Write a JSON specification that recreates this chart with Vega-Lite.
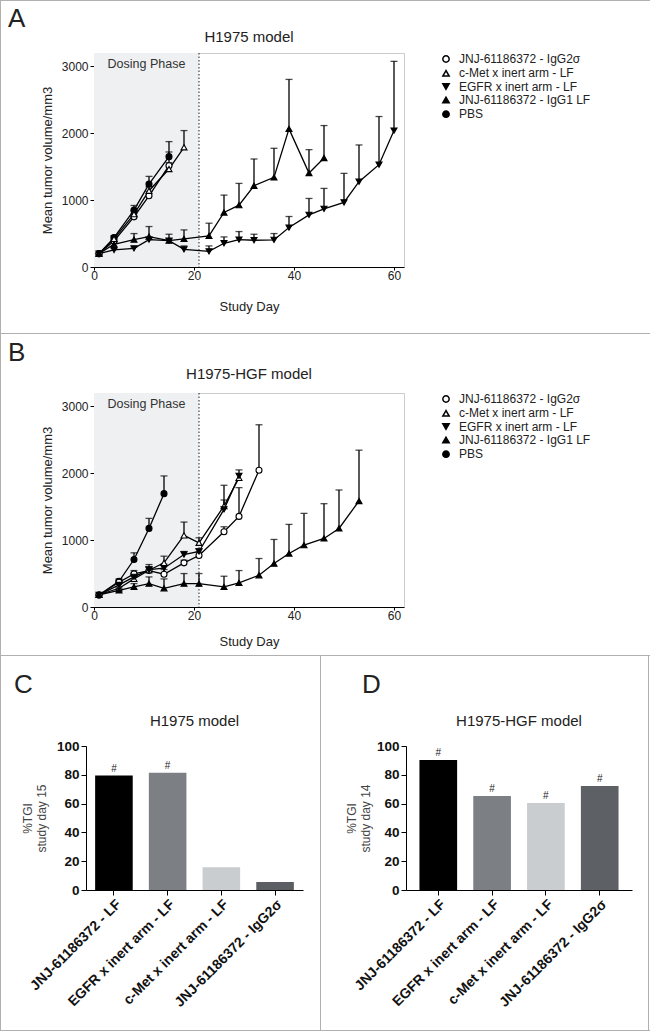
{
  "$schema": "https://vega.github.io/schema/vega-lite/v6.json",
  "background": "white",
  "padding": 0,
  "config": {
    "font": "Liberation Sans",
    "view": {"stroke": null},
    "axis": {"domainColor": "black", "tickColor": "black", "labelColor": "#222", "titleColor": "#222", "grid": false, "labelFontSize": 12, "titleFontSize": 13, "titleFontWeight": "normal", "labelFlush": false, "labelOverlap": false},
    "title": {"fontWeight": "normal", "fontSize": 26, "color": "#222", "anchor": "start", "frame": "group"},
    "legend": {"title": null, "orient": "right", "offset": 36, "labelFontSize": 12, "labelColor": "#222", "symbolSize": 40, "rowPadding": 1.3, "labelOffset": 7, "padding": 0}
  },
  "datasets": {
    "tumorA": [
      {"s": "PBS", "d": 1, "m": 200, "u": 200},
      {"s": "PBS", "d": 4, "m": 440, "u": 470},
      {"s": "PBS", "d": 8, "m": 850, "u": 920},
      {"s": "PBS", "d": 11, "m": 1240, "u": 1355},
      {"s": "PBS", "d": 15, "m": 1650, "u": 1875},
      {"s": "JNJ-61186372 - IgG2σ", "d": 1, "m": 200, "u": 200},
      {"s": "JNJ-61186372 - IgG2σ", "d": 4, "m": 390, "u": 420},
      {"s": "JNJ-61186372 - IgG2σ", "d": 8, "m": 750, "u": 800},
      {"s": "JNJ-61186372 - IgG2σ", "d": 11, "m": 1065, "u": 1130},
      {"s": "JNJ-61186372 - IgG2σ", "d": 15, "m": 1515, "u": 1720},
      {"s": "c-Met x inert arm - LF", "d": 1, "m": 200, "u": 200},
      {"s": "c-Met x inert arm - LF", "d": 4, "m": 420, "u": 450},
      {"s": "c-Met x inert arm - LF", "d": 8, "m": 790, "u": 840},
      {"s": "c-Met x inert arm - LF", "d": 11, "m": 1140, "u": 1200},
      {"s": "c-Met x inert arm - LF", "d": 15, "m": 1465, "u": 1560},
      {"s": "c-Met x inert arm - LF", "d": 18, "m": 1790, "u": 2040},
      {"s": "EGFR x inert arm - LF", "d": 1, "m": 200, "u": 200},
      {"s": "EGFR x inert arm - LF", "d": 4, "m": 255, "u": 275},
      {"s": "EGFR x inert arm - LF", "d": 8, "m": 280, "u": 300},
      {"s": "EGFR x inert arm - LF", "d": 11, "m": 410, "u": 440},
      {"s": "EGFR x inert arm - LF", "d": 15, "m": 395, "u": 420},
      {"s": "EGFR x inert arm - LF", "d": 18, "m": 265, "u": 315},
      {"s": "EGFR x inert arm - LF", "d": 23, "m": 235, "u": 315},
      {"s": "EGFR x inert arm - LF", "d": 26, "m": 355, "u": 450},
      {"s": "EGFR x inert arm - LF", "d": 29, "m": 410, "u": 530},
      {"s": "EGFR x inert arm - LF", "d": 32, "m": 400, "u": 490},
      {"s": "EGFR x inert arm - LF", "d": 36, "m": 405, "u": 500},
      {"s": "EGFR x inert arm - LF", "d": 39, "m": 590, "u": 755},
      {"s": "EGFR x inert arm - LF", "d": 43, "m": 780, "u": 1025},
      {"s": "EGFR x inert arm - LF", "d": 46, "m": 870, "u": 1175},
      {"s": "EGFR x inert arm - LF", "d": 50, "m": 965, "u": 1400},
      {"s": "EGFR x inert arm - LF", "d": 53, "m": 1275, "u": 1825},
      {"s": "EGFR x inert arm - LF", "d": 57, "m": 1530, "u": 2250},
      {"s": "EGFR x inert arm - LF", "d": 60, "m": 2040, "u": 3075},
      {"s": "JNJ-61186372 - IgG1 LF", "d": 1, "m": 200, "u": 200},
      {"s": "JNJ-61186372 - IgG1 LF", "d": 4, "m": 340, "u": 370},
      {"s": "JNJ-61186372 - IgG1 LF", "d": 8, "m": 410, "u": 500},
      {"s": "JNJ-61186372 - IgG1 LF", "d": 11, "m": 455, "u": 605},
      {"s": "JNJ-61186372 - IgG1 LF", "d": 15, "m": 395, "u": 490},
      {"s": "JNJ-61186372 - IgG1 LF", "d": 18, "m": 420, "u": 555},
      {"s": "JNJ-61186372 - IgG1 LF", "d": 23, "m": 465, "u": 655},
      {"s": "JNJ-61186372 - IgG1 LF", "d": 26, "m": 815, "u": 1075},
      {"s": "JNJ-61186372 - IgG1 LF", "d": 29, "m": 925, "u": 1250},
      {"s": "JNJ-61186372 - IgG1 LF", "d": 32, "m": 1215, "u": 1615},
      {"s": "JNJ-61186372 - IgG1 LF", "d": 36, "m": 1340, "u": 1775},
      {"s": "JNJ-61186372 - IgG1 LF", "d": 39, "m": 2065, "u": 2805},
      {"s": "JNJ-61186372 - IgG1 LF", "d": 43, "m": 1405, "u": 1755},
      {"s": "JNJ-61186372 - IgG1 LF", "d": 46, "m": 1630, "u": 2115}
    ],
    "tumorB": [
      {"s": "PBS", "d": 1, "m": 180, "u": 180},
      {"s": "PBS", "d": 5, "m": 385, "u": 420},
      {"s": "PBS", "d": 8, "m": 710, "u": 810},
      {"s": "PBS", "d": 11, "m": 1175, "u": 1325},
      {"s": "PBS", "d": 14, "m": 1695, "u": 1960},
      {"s": "JNJ-61186372 - IgG2σ", "d": 1, "m": 180, "u": 180},
      {"s": "JNJ-61186372 - IgG2σ", "d": 5, "m": 370, "u": 400},
      {"s": "JNJ-61186372 - IgG2σ", "d": 8, "m": 495, "u": 545},
      {"s": "JNJ-61186372 - IgG2σ", "d": 11, "m": 545, "u": 635},
      {"s": "JNJ-61186372 - IgG2σ", "d": 14, "m": 490, "u": 560},
      {"s": "JNJ-61186372 - IgG2σ", "d": 18, "m": 660, "u": 700},
      {"s": "JNJ-61186372 - IgG2σ", "d": 21, "m": 770, "u": 820},
      {"s": "JNJ-61186372 - IgG2σ", "d": 26, "m": 1125, "u": 1200},
      {"s": "JNJ-61186372 - IgG2σ", "d": 29, "m": 1355, "u": 1785},
      {"s": "JNJ-61186372 - IgG2σ", "d": 33, "m": 2045, "u": 2725},
      {"s": "c-Met x inert arm - LF", "d": 1, "m": 180, "u": 180},
      {"s": "c-Met x inert arm - LF", "d": 5, "m": 280, "u": 300},
      {"s": "c-Met x inert arm - LF", "d": 8, "m": 420, "u": 460},
      {"s": "c-Met x inert arm - LF", "d": 11, "m": 550, "u": 600},
      {"s": "c-Met x inert arm - LF", "d": 14, "m": 660, "u": 760},
      {"s": "c-Met x inert arm - LF", "d": 18, "m": 1070, "u": 1270},
      {"s": "c-Met x inert arm - LF", "d": 21, "m": 960, "u": 1035},
      {"s": "c-Met x inert arm - LF", "d": 26, "m": 1510, "u": 1820},
      {"s": "c-Met x inert arm - LF", "d": 29, "m": 1930, "u": 1930},
      {"s": "EGFR x inert arm - LF", "d": 1, "m": 180, "u": 180},
      {"s": "EGFR x inert arm - LF", "d": 5, "m": 330, "u": 360},
      {"s": "EGFR x inert arm - LF", "d": 8, "m": 450, "u": 500},
      {"s": "EGFR x inert arm - LF", "d": 11, "m": 560, "u": 600},
      {"s": "EGFR x inert arm - LF", "d": 14, "m": 580, "u": 640},
      {"s": "EGFR x inert arm - LF", "d": 18, "m": 785, "u": 830},
      {"s": "EGFR x inert arm - LF", "d": 21, "m": 830, "u": 870},
      {"s": "EGFR x inert arm - LF", "d": 26, "m": 1460, "u": 1600},
      {"s": "EGFR x inert arm - LF", "d": 29, "m": 1960, "u": 2050},
      {"s": "JNJ-61186372 - IgG1 LF", "d": 1, "m": 180, "u": 180},
      {"s": "JNJ-61186372 - IgG1 LF", "d": 5, "m": 250, "u": 280},
      {"s": "JNJ-61186372 - IgG1 LF", "d": 8, "m": 300, "u": 350},
      {"s": "JNJ-61186372 - IgG1 LF", "d": 11, "m": 350, "u": 450},
      {"s": "JNJ-61186372 - IgG1 LF", "d": 14, "m": 280, "u": 420},
      {"s": "JNJ-61186372 - IgG1 LF", "d": 18, "m": 350, "u": 500},
      {"s": "JNJ-61186372 - IgG1 LF", "d": 21, "m": 350, "u": 500},
      {"s": "JNJ-61186372 - IgG1 LF", "d": 26, "m": 300, "u": 460},
      {"s": "JNJ-61186372 - IgG1 LF", "d": 29, "m": 360, "u": 545},
      {"s": "JNJ-61186372 - IgG1 LF", "d": 33, "m": 475, "u": 725},
      {"s": "JNJ-61186372 - IgG1 LF", "d": 36, "m": 650, "u": 1010},
      {"s": "JNJ-61186372 - IgG1 LF", "d": 39, "m": 800, "u": 1235},
      {"s": "JNJ-61186372 - IgG1 LF", "d": 42, "m": 925, "u": 1400},
      {"s": "JNJ-61186372 - IgG1 LF", "d": 46, "m": 1025, "u": 1545},
      {"s": "JNJ-61186372 - IgG1 LF", "d": 49, "m": 1175, "u": 1750},
      {"s": "JNJ-61186372 - IgG1 LF", "d": 53, "m": 1585, "u": 2345}
    ],
    "tgiC": [
      {"g": "JNJ-61186372 - LF", "v": 79.5, "h": "#"},
      {"g": "EGFR x inert arm - LF", "v": 81.5, "h": "#"},
      {"g": "c-Met x inert arm - LF", "v": 15.8, "h": ""},
      {"g": "JNJ-61186372 - IgG2σ", "v": 5.5, "h": ""}
    ],
    "tgiD": [
      {"g": "JNJ-61186372 - LF", "v": 90.2, "h": "#"},
      {"g": "EGFR x inert arm - LF", "v": 65.3, "h": "#"},
      {"g": "c-Met x inert arm - LF", "v": 60.5, "h": "#"},
      {"g": "JNJ-61186372 - IgG2σ", "v": 72.3, "h": "#"}
    ],
    "one": [{}]
  },
  "spacing": 0,
  "resolve": {"scale": {"shape": "independent", "fill": "independent", "color": "independent"}},
  "vconcat": [
    {"width": 650, "height": 1, "data": {"name": "one"}, "mark": {"type": "rect", "color": "#b0b0b0"}},
    {
      "columns": 2, "align": "none", "spacing": 7,
      "resolve": {"scale": {"shape": "independent", "fill": "independent"}},
      "concat": [
        {"width": 1, "height": 332, "data": {"name": "one"}, "mark": {"type": "rect", "color": "#b0b0b0"}},
        {
          "columns": 2, "align": "none", "spacing": 58,
          "resolve": {"scale": {"shape": "independent", "fill": "independent"}},
          "concat": [
            {
              "spacing": 0,
              "resolve": {"scale": {"shape": "independent", "fill": "independent"}},
              "vconcat": [
                {"width": 310, "height": 51, "data": {"name": "one"},
                 "title": {"text": "A", "offset": -31, "dx": -86},
                 "mark": {"type": "text", "fontSize": 15, "color": "#222", "dy": 10.5},
                 "encoding": {"text": {"value": "H1975 model"}}},
                {
                  "width": 310, "height": 214,
                  "view": {"stroke": "#cccccc"},
                  "layer": [
                    {"data": {"values": [{"a": 0, "b": 21}]}, "mark": {"type": "rect", "color": "#eef0f2"},
                     "encoding": {"x": {"field": "a", "type": "quantitative", "scale": {"domain": [0, 62], "nice": false}}, "x2": {"field": "b"}}},
                    {"data": {"name": "one"}, "mark": {"type": "rule", "color": "#222", "strokeDash": [1.5, 2], "strokeWidth": 1},
                     "encoding": {"x": {"datum": 21, "type": "quantitative"}}},
                    {"data": {"name": "one"}, "mark": {"type": "text", "fontSize": 12.5, "color": "#333"},
                     "encoding": {"x": {"datum": 10.5, "type": "quantitative"}, "y": {"datum": 3040, "type": "quantitative"}, "text": {"value": "Dosing Phase"}}},
                    {"data": {"name": "tumorA"}, "transform": [{"filter": "datum.u > datum.m"}], "mark": {"type": "rule", "color": "black", "strokeWidth": 1.3},
                     "encoding": {"x": {"field": "d", "type": "quantitative"}, "y": {"field": "m", "type": "quantitative"}, "y2": {"field": "u"}}},
                    {"data": {"name": "tumorA"}, "transform": [{"filter": "datum.u > datum.m"}], "mark": {"type": "tick", "orient": "horizontal", "color": "black", "size": 7, "thickness": 1.3},
                     "encoding": {"x": {"field": "d", "type": "quantitative"}, "y": {"field": "u", "type": "quantitative"}}},
                    {"data": {"name": "tumorA"}, "mark": {"type": "line", "color": "black", "strokeWidth": 1.3},
                     "encoding": {
                       "x": {"field": "d", "type": "quantitative", "scale": {"domain": [0, 62], "nice": false}, "axis": {"values": [0, 20, 40, 60], "title": "Study Day", "tickSize": 3, "labelPadding": 0, "titlePadding": 19}},
                       "y": {"field": "m", "type": "quantitative", "scale": {"domain": [0, 3200], "nice": false}, "axis": {"values": [0, 1000, 2000, 3000], "format": "d", "title": "Mean tumor volume/mm3", "tickSize": 4, "labelPadding": 2, "titlePadding": 7}},
                       "detail": {"field": "s"}}},
                    {"data": {"name": "tumorA"}, "mark": {"type": "point", "filled": true, "stroke": "black", "strokeWidth": 1.1, "size": 36, "opacity": 1},
                     "encoding": {
                       "x": {"field": "d", "type": "quantitative"},
                       "y": {"field": "m", "type": "quantitative"},
                       "shape": {"field": "s", "type": "nominal", "scale": {"domain": ["JNJ-61186372 - IgG2σ", "c-Met x inert arm - LF", "EGFR x inert arm - LF", "JNJ-61186372 - IgG1 LF", "PBS"], "range": ["circle", "triangle-up", "triangle-down", "triangle-up", "circle"]},
                         "legend": {"encode": {"symbols": {"update": {"stroke": {"value": "black"}, "strokeWidth": {"value": 1.1}, "shape": {"signal": "(datum.value == 'PBS' || datum.value == 'JNJ-61186372 - IgG2σ') ? 'M-2.3,0H-1M1,0H2.3M1,0A1,1,0,1,1,-1,0A1,1,0,1,1,1,0Z' : (datum.value == 'EGFR x inert arm - LF' ? 'M-2.3,-0.1H2.3M0,0.95L1.05,-0.8H-1.05Z' : 'M-2.3,0.1H2.3M0,-0.95L1.05,0.8H-1.05Z')"}}}}}},
                       "fill": {"field": "s", "type": "nominal", "scale": {"domain": ["JNJ-61186372 - IgG2σ", "c-Met x inert arm - LF", "EGFR x inert arm - LF", "JNJ-61186372 - IgG1 LF", "PBS"], "range": ["white", "white", "black", "black", "black"]},
                         "legend": {"encode": {"symbols": {"update": {"stroke": {"value": "black"}, "strokeWidth": {"value": 1.1}, "shape": {"signal": "(datum.value == 'PBS' || datum.value == 'JNJ-61186372 - IgG2σ') ? 'M-2.3,0H-1M1,0H2.3M1,0A1,1,0,1,1,-1,0A1,1,0,1,1,1,0Z' : (datum.value == 'EGFR x inert arm - LF' ? 'M-2.3,-0.1H2.3M0,0.95L1.05,-0.8H-1.05Z' : 'M-2.3,0.1H2.3M0,-0.95L1.05,0.8H-1.05Z')"}}}}}}}}
                  ]
                }
              ]
            },
            {"width": 1, "height": 332, "data": {"name": "one"}, "mark": {"type": "rect", "color": "#b0b0b0"}}
          ]
        }
      ]
    },
    {"width": 650, "height": 1, "data": {"name": "one"}, "mark": {"type": "rect", "color": "#b0b0b0"}},
    {
      "columns": 2, "align": "none", "spacing": 7,
      "resolve": {"scale": {"shape": "independent", "fill": "independent"}},
      "concat": [
        {"width": 1, "height": 321, "data": {"name": "one"}, "mark": {"type": "rect", "color": "#b0b0b0"}},
        {
          "columns": 2, "align": "none", "spacing": 58,
          "resolve": {"scale": {"shape": "independent", "fill": "independent"}},
          "concat": [
            {
              "spacing": 0,
              "resolve": {"scale": {"shape": "independent", "fill": "independent"}},
              "vconcat": [
                {"width": 310, "height": 58, "data": {"name": "one"},
                 "title": {"text": "B", "offset": -32, "dx": -86},
                 "mark": {"type": "text", "fontSize": 15, "color": "#222", "dy": 11},
                 "encoding": {"text": {"value": "H1975-HGF model"}}},
                {
                  "width": 310, "height": 214,
                  "view": {"stroke": "#cccccc"},
                  "layer": [
                    {"data": {"values": [{"a": 0, "b": 21}]}, "mark": {"type": "rect", "color": "#eef0f2"},
                     "encoding": {"x": {"field": "a", "type": "quantitative", "scale": {"domain": [0, 62], "nice": false}}, "x2": {"field": "b"}}},
                    {"data": {"name": "one"}, "mark": {"type": "rule", "color": "#222", "strokeDash": [1.5, 2], "strokeWidth": 1},
                     "encoding": {"x": {"datum": 21, "type": "quantitative"}}},
                    {"data": {"name": "one"}, "mark": {"type": "text", "fontSize": 12.5, "color": "#333"},
                     "encoding": {"x": {"datum": 10.5, "type": "quantitative"}, "y": {"datum": 3040, "type": "quantitative"}, "text": {"value": "Dosing Phase"}}},
                    {"data": {"name": "tumorB"}, "transform": [{"filter": "datum.u > datum.m"}], "mark": {"type": "rule", "color": "black", "strokeWidth": 1.3},
                     "encoding": {"x": {"field": "d", "type": "quantitative"}, "y": {"field": "m", "type": "quantitative"}, "y2": {"field": "u"}}},
                    {"data": {"name": "tumorB"}, "transform": [{"filter": "datum.u > datum.m"}], "mark": {"type": "tick", "orient": "horizontal", "color": "black", "size": 7, "thickness": 1.3},
                     "encoding": {"x": {"field": "d", "type": "quantitative"}, "y": {"field": "u", "type": "quantitative"}}},
                    {"data": {"name": "tumorB"}, "mark": {"type": "line", "color": "black", "strokeWidth": 1.3},
                     "encoding": {
                       "x": {"field": "d", "type": "quantitative", "scale": {"domain": [0, 62], "nice": false}, "axis": {"values": [0, 20, 40, 60], "title": "Study Day", "tickSize": 3, "labelPadding": 0, "titlePadding": 14}},
                       "y": {"field": "m", "type": "quantitative", "scale": {"domain": [0, 3200], "nice": false}, "axis": {"values": [0, 1000, 2000, 3000], "format": "d", "title": "Mean tumor volume/mm3", "tickSize": 4, "labelPadding": 2, "titlePadding": 7}},
                       "detail": {"field": "s"}}},
                    {"data": {"name": "tumorB"}, "mark": {"type": "point", "filled": true, "stroke": "black", "strokeWidth": 1.1, "size": 36, "opacity": 1},
                     "encoding": {
                       "x": {"field": "d", "type": "quantitative"},
                       "y": {"field": "m", "type": "quantitative"},
                       "shape": {"field": "s", "type": "nominal", "scale": {"domain": ["JNJ-61186372 - IgG2σ", "c-Met x inert arm - LF", "EGFR x inert arm - LF", "JNJ-61186372 - IgG1 LF", "PBS"], "range": ["circle", "triangle-up", "triangle-down", "triangle-up", "circle"]},
                         "legend": {"encode": {"symbols": {"update": {"stroke": {"value": "black"}, "strokeWidth": {"value": 1.1}, "shape": {"signal": "(datum.value == 'PBS' || datum.value == 'JNJ-61186372 - IgG2σ') ? 'M-2.3,0H-1M1,0H2.3M1,0A1,1,0,1,1,-1,0A1,1,0,1,1,1,0Z' : (datum.value == 'EGFR x inert arm - LF' ? 'M-2.3,-0.1H2.3M0,0.95L1.05,-0.8H-1.05Z' : 'M-2.3,0.1H2.3M0,-0.95L1.05,0.8H-1.05Z')"}}}}}},
                       "fill": {"field": "s", "type": "nominal", "scale": {"domain": ["JNJ-61186372 - IgG2σ", "c-Met x inert arm - LF", "EGFR x inert arm - LF", "JNJ-61186372 - IgG1 LF", "PBS"], "range": ["white", "white", "black", "black", "black"]},
                         "legend": {"encode": {"symbols": {"update": {"stroke": {"value": "black"}, "strokeWidth": {"value": 1.1}, "shape": {"signal": "(datum.value == 'PBS' || datum.value == 'JNJ-61186372 - IgG2σ') ? 'M-2.3,0H-1M1,0H2.3M1,0A1,1,0,1,1,-1,0A1,1,0,1,1,1,0Z' : (datum.value == 'EGFR x inert arm - LF' ? 'M-2.3,-0.1H2.3M0,0.95L1.05,-0.8H-1.05Z' : 'M-2.3,0.1H2.3M0,-0.95L1.05,0.8H-1.05Z')"}}}}}}}}
                  ]
                }
              ]
            },
            {"width": 1, "height": 321, "data": {"name": "one"}, "mark": {"type": "rect", "color": "#b0b0b0"}}
          ]
        }
      ]
    },
    {"width": 650, "height": 1, "data": {"name": "one"}, "mark": {"type": "rect", "color": "#b0b0b0"}},
    {
      "columns": 2, "align": "none", "spacing": 17,
      "resolve": {"scale": {"color": "independent"}},
      "concat": [
        {
          "columns": 2, "align": "none", "spacing": 13,
          "resolve": {"scale": {"color": "independent"}},
          "concat": [
            {"width": 1, "height": 374, "data": {"name": "one"}, "mark": {"type": "rect", "color": "#b0b0b0"}},
            {
              "spacing": 0,
              "vconcat": [
                {"width": 217, "height": 83, "data": {"name": "one"},
                 "title": {"text": "C", "offset": -42, "dx": -72},
                 "mark": {"type": "text", "fontSize": 15, "color": "#222", "dy": 23.5},
                 "encoding": {"text": {"value": "H1975 model"}}},
                {
                  "width": 217, "height": 144,
                  "data": {"name": "tgiC"},
                  "layer": [
                    {"mark": {"type": "bar"},
                     "encoding": {
                       "x": {"field": "g", "type": "nominal", "sort": null, "scale": {"paddingInner": 0.3, "paddingOuter": 0.17}, "axis": {"title": null, "labelAngle": -45, "labelFontWeight": "bold", "labelFontSize": 14, "labelColor": "#111", "tickSize": 5, "labelPadding": 2, "labelLimit": 220}},
                       "y": {"field": "v", "type": "quantitative", "scale": {"domain": [0, 100], "nice": false}, "axis": {"values": [0, 20, 40, 60, 80, 100], "labelOverlap": false, "title": ["%TGI", "study day 15"], "titleColor": "#444", "titleFontSize": 12, "titleLineHeight": 14, "titlePadding": 8, "labelFontWeight": "bold", "labelFontSize": 13.5, "labelColor": "#111", "tickSize": 5, "labelPadding": 2}},
                       "color": {"field": "g", "type": "nominal", "scale": {"domain": ["JNJ-61186372 - LF", "EGFR x inert arm - LF", "c-Met x inert arm - LF", "JNJ-61186372 - IgG2σ"], "range": ["#000000", "#7c8084", "#c9cdd0", "#5b5f63"]}, "legend": null}}},
                    {"mark": {"type": "text", "dy": -7, "fontSize": 10, "color": "#222"},
                     "encoding": {
                       "x": {"field": "g", "type": "nominal", "sort": null, "axis": {"title": null, "labelAngle": -45, "labelFontWeight": "bold", "labelFontSize": 14, "labelColor": "#111", "tickSize": 5, "labelPadding": 2, "labelLimit": 220}},
                       "y": {"field": "v", "type": "quantitative", "axis": {"values": [0, 20, 40, 60, 80, 100], "labelOverlap": false, "title": ["%TGI", "study day 15"], "titleColor": "#444", "titleFontSize": 12, "titleLineHeight": 14, "titlePadding": 8, "labelFontWeight": "bold", "labelFontSize": 13.5, "labelColor": "#111", "tickSize": 5, "labelPadding": 2}},
                       "text": {"field": "h"}}}
                  ]
                }
              ]
            }
          ]
        },
        {
          "columns": 2, "align": "none", "spacing": 24,
          "resolve": {"scale": {"color": "independent"}},
          "concat": [
            {"width": 1, "height": 374, "data": {"name": "one"}, "mark": {"type": "rect", "color": "#b0b0b0"}},
            {
              "columns": 2, "align": "none", "spacing": 16,
              "resolve": {"scale": {"color": "independent"}},
              "concat": [
                {
                  "spacing": 0,
                  "vconcat": [
                    {"width": 226, "height": 83, "data": {"name": "one"},
                     "title": {"text": "D", "offset": -42, "dx": -44},
                     "mark": {"type": "text", "fontSize": 15, "color": "#222", "dy": 23.5},
                     "encoding": {"text": {"value": "H1975-HGF model"}}},
                    {
                      "width": 226, "height": 144,
                      "data": {"name": "tgiD"},
                      "layer": [
                        {"mark": {"type": "bar"},
                         "encoding": {
                           "x": {"field": "g", "type": "nominal", "sort": null, "scale": {"paddingInner": 0.3, "paddingOuter": 0.25}, "axis": {"title": null, "labelAngle": -45, "labelFontWeight": "bold", "labelFontSize": 14, "labelColor": "#111", "tickSize": 5, "labelPadding": 2, "labelLimit": 220}},
                           "y": {"field": "v", "type": "quantitative", "scale": {"domain": [0, 100], "nice": false}, "axis": {"values": [0, 20, 40, 60, 80, 100], "labelOverlap": false, "title": ["%TGI", "study day 14"], "titleColor": "#444", "titleFontSize": 12, "titleLineHeight": 14, "titlePadding": 4, "labelFontWeight": "bold", "labelFontSize": 13.5, "labelColor": "#111", "tickSize": 5, "labelPadding": 2}},
                           "color": {"field": "g", "type": "nominal", "scale": {"domain": ["JNJ-61186372 - LF", "EGFR x inert arm - LF", "c-Met x inert arm - LF", "JNJ-61186372 - IgG2σ"], "range": ["#000000", "#7c8084", "#c9cdd0", "#5d6165"]}, "legend": null}}},
                        {"mark": {"type": "text", "dy": -7, "fontSize": 10, "color": "#222"},
                         "encoding": {
                           "x": {"field": "g", "type": "nominal", "sort": null, "axis": {"title": null, "labelAngle": -45, "labelFontWeight": "bold", "labelFontSize": 14, "labelColor": "#111", "tickSize": 5, "labelPadding": 2, "labelLimit": 220}},
                           "y": {"field": "v", "type": "quantitative", "axis": {"values": [0, 20, 40, 60, 80, 100], "labelOverlap": false, "title": ["%TGI", "study day 14"], "titleColor": "#444", "titleFontSize": 12, "titleLineHeight": 14, "titlePadding": 4, "labelFontWeight": "bold", "labelFontSize": 13.5, "labelColor": "#111", "tickSize": 5, "labelPadding": 2}},
                           "text": {"field": "h"}}}
                      ]
                    }
                  ]
                },
                {"width": 1, "height": 374, "data": {"name": "one"}, "mark": {"type": "rect", "color": "#b0b0b0"}}
              ]
            }
          ]
        }
      ]
    },
    {"width": 650, "height": 1, "data": {"name": "one"}, "mark": {"type": "rect", "color": "#b0b0b0"}}
  ]
}
